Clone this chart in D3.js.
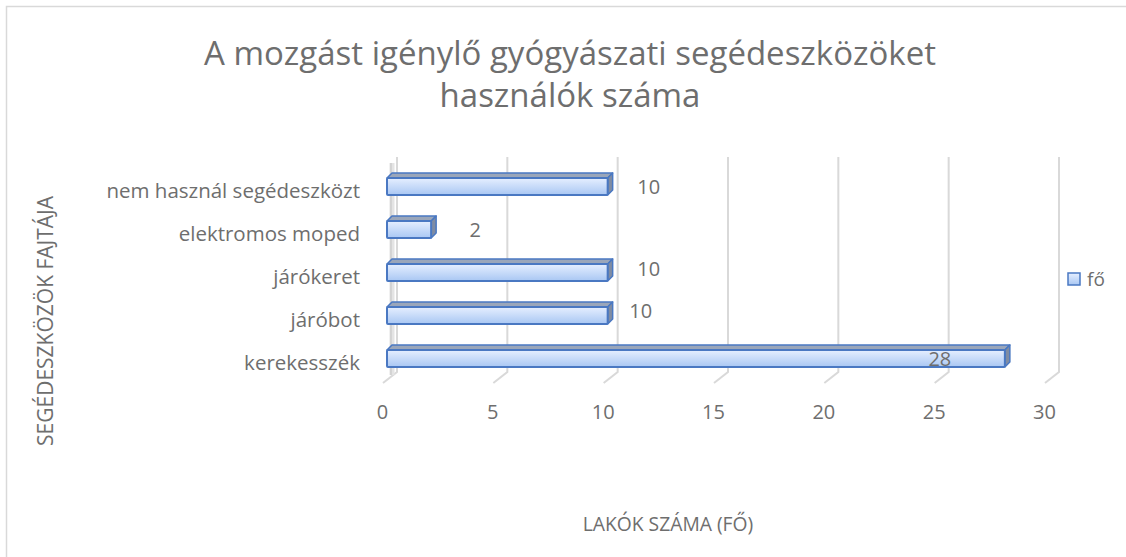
<!DOCTYPE html>
<html>
  <head>
    <meta charset="utf-8">
    <title>A mozgást igénylő gyógyászati segédeszközöket használók száma</title>
    <style>
      body { margin: 0; background: #fff; }
      text { font-family: "Open Sans", sans-serif; fill: #6e6e6e; }
    </style>
    <script src="https://cdn.jsdelivr.net/npm/d3@7/dist/d3.min.js"></script>
  </head>
  <body>
    <script>
      // data, top to bottom as shown
      const categories = ['nem használ segédeszközt', 'elektromos moped', 'járókeret', 'járóbot', 'kerekesszék'];
      const values = [10, 2, 10, 10, 28];
      const ticks = [0, 5, 10, 15, 20, 25, 30];
      const seriesName = 'fő';
      const titleLines = ['A mozgást igénylő gyógyászati segédeszközöket', 'használók száma'];

      const width = 1126, height = 557;
      const depth = {dx: 14, dy: -11};   // floor depth (front -> back wall)
      const barDepth = 5;
      const wallTop = 157, floorY = 383;
      // small nudges for the data labels (excel 3d places them oddly)
      const labelNudge = [[41, 0], [44, 0], [41, -4], [33, -5], [-65, 0]];

      const svg = d3.select('body').append('svg')
        .attr('width', width).attr('height', height);

      const defs = svg.append('defs');
      const grad = defs.append('linearGradient').attr('id', 'barGrad')
        .attr('x1', 0).attr('y1', 0).attr('x2', 0).attr('y2', 1);
      grad.append('stop').attr('offset', '0%').attr('stop-color', '#e6efff');
      grad.append('stop').attr('offset', '100%').attr('stop-color', '#a9c7f3');

      // chart border
      svg.append('rect').attr('x', 6.5).attr('y', 6.5)
        .attr('width', 1140).attr('height', 570)
        .attr('fill', 'none').attr('stroke', '#d9d9d9').attr('stroke-width', 1.5);

      const x = d3.scaleLinear().domain([0, 30]).range([383, 1045]);
      const y = d3.scalePoint().domain(categories).range([165, 380]).padding(0.5);
      const barH = 17;

      // gridlines: back wall + floor diagonal
      const grid = svg.append('g');
      ticks.forEach(t => {
        const bx = x(t) + depth.dx, by = floorY + depth.dy;
        grid.append('path')
          .attr('d', `M${bx},${wallTop}L${bx},${by}L${x(t)},${floorY}`)
          .attr('fill', 'none').attr('stroke', '#d9d9d9').attr('stroke-width', 2);
      });
      // left side wall edge
      svg.append('path')
        .attr('d', `M${x(0) + 9},${wallTop + 6}L${x(0) + 9},${floorY - 8}`)
        .attr('stroke', '#e4e4e4').attr('stroke-width', 5);
      svg.append('path')
        .attr('d', `M${x(0) + 8},${wallTop + 6}L${x(0) + 8},${floorY - 8}`)
        .attr('stroke', '#c9c9c9').attr('stroke-width', 1.2);

      // bars
      const bars = svg.append('g').selectAll('g').data(values).join('g');
      const x0 = x(0) + 4;
      bars.each(function (v, i) {
        const g = d3.select(this);
        const top = y(categories[i]) - barH / 2;
        const xe = x(v) + 4;
        // top face
        g.append('path')
          .attr('d', `M${x0},${top}L${x0 + barDepth},${top - barDepth}L${xe + barDepth},${top - barDepth}L${xe},${top}Z`)
          .attr('fill', '#9aa6ba').attr('stroke', '#4a78c2').attr('stroke-width', 1.5).attr('stroke-linejoin', 'round');
        // side face
        g.append('path')
          .attr('d', `M${xe},${top}L${xe + barDepth},${top - barDepth}L${xe + barDepth},${top + barH - barDepth}L${xe},${top + barH}Z`)
          .attr('fill', '#7f8ca3').attr('stroke', '#4a78c2').attr('stroke-width', 1.5).attr('stroke-linejoin', 'round');
        // front face
        g.append('rect')
          .attr('x', x0).attr('y', top).attr('width', xe - x0).attr('height', barH)
          .attr('fill', 'url(#barGrad)').attr('stroke', '#4a78c2').attr('stroke-width', 2).attr('rx', 1);
      });

      // data labels
      svg.append('g').selectAll('text').data(values).join('text')
        .attr('x', (d, i) => x(d) + 4 + labelNudge[i][0])
        .attr('y', (d, i) => y(categories[i]) + labelNudge[i][1])
        .attr('dy', '0.35em')
        .attr('text-anchor', 'middle')
        .style('font-size', '20px')
        .text(d => d);

      // category labels
      svg.append('g').selectAll('text').data(categories).join('text')
        .attr('x', 360).attr('y', d => y(d) + 4)
        .attr('dy', '0.35em').attr('text-anchor', 'end')
        .style('font-size', '20.5px')
        .text(d => d);

      // value axis
      const xAxis = svg.append('g')
        .attr('transform', `translate(-1,${floorY + 22})`)
        .call(d3.axisBottom(x).tickValues(ticks).tickSize(0).tickPadding(0));
      xAxis.select('.domain').remove();
      xAxis.selectAll('text')
        .style('font-family', '"Open Sans", sans-serif').style('font-size', '20px').attr('fill', '#6e6e6e');

      // titles
      svg.append('g').selectAll('text').data(titleLines).join('text')
        .attr('x', 570).attr('y', (d, i) => 65 + i * 42)
        .attr('text-anchor', 'middle')
        .style('font-size', '33px')
        .text(d => d);

      svg.append('text')
        .attr('transform', 'translate(53,321) rotate(-90)')
        .attr('text-anchor', 'middle')
        .style('font-size', '21px')
        .text('SEGÉDESZKÖZÖK FAJTÁJA');

      svg.append('text')
        .attr('x', 668).attr('y', 531)
        .attr('text-anchor', 'middle')
        .style('font-size', '19.3px')
        .text('LAKÓK SZÁMA (FŐ)');

      // legend
      const lg = svg.append('g').attr('transform', 'translate(1068,273)');
      lg.append('rect').attr('width', 12).attr('height', 12)
        .attr('fill', 'url(#barGrad)').attr('stroke', '#4a78c2').attr('stroke-width', 1.5);
      lg.append('text').attr('x', 19).attr('y', 6).attr('dy', '0.35em')
        .style('font-size', '19px').text(seriesName);
    </script>
  </body>
</html>
